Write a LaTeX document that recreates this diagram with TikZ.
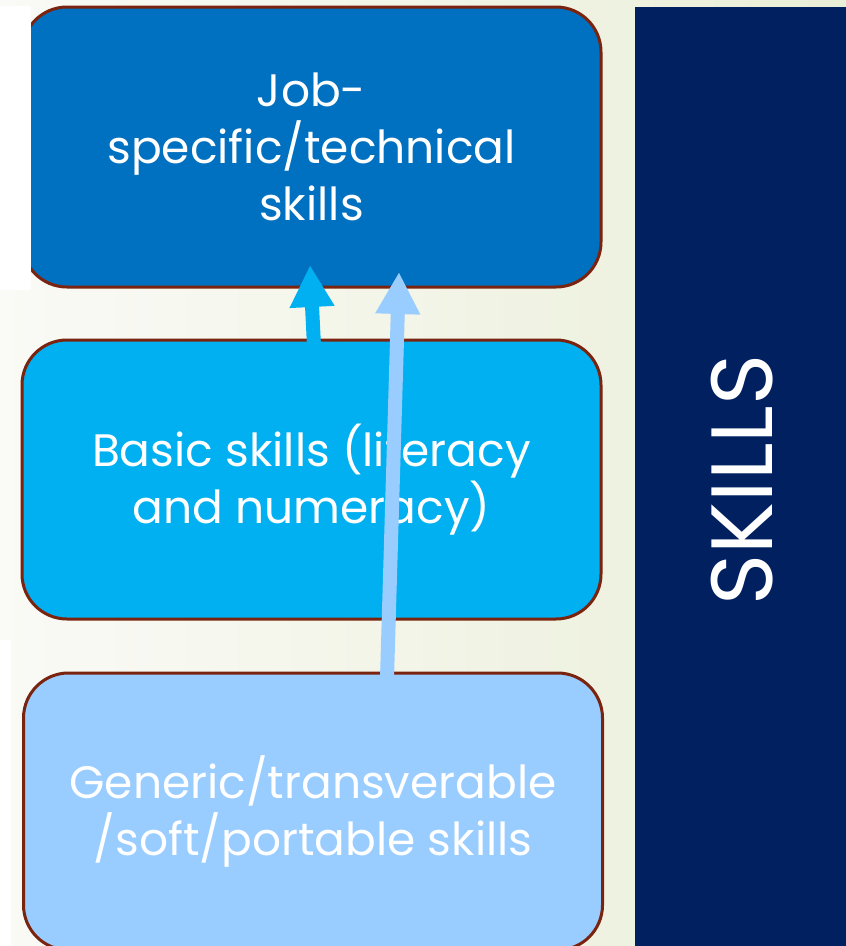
\documentclass[tikz,border=0pt]{standalone}
\usepackage{fontspec}
\setmainfont{Poppins}
\usetikzlibrary{arrows.meta}
\definecolor{jobblue}{HTML}{0070C0}
\definecolor{basicblue}{HTML}{00B0F0}
\definecolor{softblue}{HTML}{99CCFF}
\definecolor{navy}{HTML}{00205F}
\definecolor{rim}{HTML}{7A2410}
\definecolor{paperL}{HTML}{FAFAF6}
\definecolor{paperR}{HTML}{EAEFD8}
\begin{document}
\begin{tikzpicture}[x=1pt,y=-1pt,
  tier/.style={draw=rim, line width=3pt, rounded corners=45pt,
    minimum width=579pt, text=white, align=center,
    font=\fontsize{45.5}{57}\selectfont},
  lift/.style={line width=14pt, -{Triangle[width=42pt,length=42pt]}}]
\useasboundingbox (0,0) rectangle (846,946);
\clip (0,0) rectangle (846,946);
% page background
\shade[left color=paperL, right color=paperR] (0,0) rectangle (846,946);
% the three tiers of skills
\node[tier, fill=jobblue, minimum height=280pt] (job) at (311.5,147)
  {Job-\\specific/technical\\skills};
\node[tier, fill=basicblue, minimum height=279pt] (basic) at (311.5,479.5)
  {Basic skills (literacy\\and numeracy)};
\node[tier, fill=softblue, minimum height=277pt] (soft) at (313,811.5)
  {Generic/transverable\\/soft/portable skills};
% arrows between tiers
\coordinate (b1) at (314,346);
\coordinate (t1) at (310,265);
\coordinate (b2) at (387,678);
\coordinate (t2) at (399,272);
\draw[lift, basicblue] (b1) -- (t1);
\draw[lift, softblue] (b2) -- (t2);
% white margin strips
\fill[white] (0,6) rectangle (31,290);
\fill[white] (0,640) rectangle (11,946);
% side panel
\fill[navy] (635,7) rectangle (846,946);
\node[rotate=90, text=white, font=\fontsize{87}{87}\selectfont] (title) at (742,480) {SKILLS};
\end{tikzpicture}
\end{document}
